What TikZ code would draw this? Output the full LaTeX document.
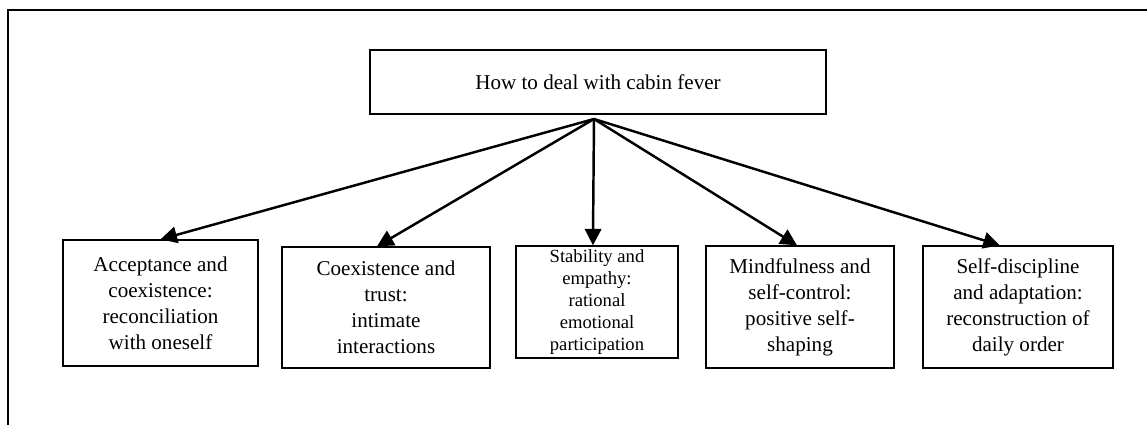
\documentclass[tikz,border=0pt]{standalone}
\usepackage{fontspec}
\setmainfont{Liberation Serif}
\usetikzlibrary{arrows.meta,positioning,calc}

\begin{document}
\begin{tikzpicture}[
    >={Triangle[length=3.3mm,width=3.3mm]},
    link/.style={->,line width=1.4pt,draw=black},
    frame/.style={line width=1.6pt,draw=black},
    topic/.style={draw=black,line width=1.4pt,minimum width=9.12cm,
      minimum height=1.28cm,align=center,font=\fontsize{12}{14.8}\selectfont},
    branch/.style={draw=black,line width=0.75pt,inner sep=0pt,align=center,
      font=\fontsize{12}{14.8}\selectfont},
    smallbranch/.style={branch,font=\fontsize{10.6}{12.6}\selectfont}
  ]
    \useasboundingbox (0,0) rectangle (22.94,8.5);
    \draw[frame] (0.16,-0.2) -- (0.16,8.3) -- (23.2,8.3);

    \node[topic] (topic) at (11.96,6.86) {How to deal with cabin fever};
    \coordinate (hub) at (11.88,6.12);

    \node[branch,minimum width=3.9cm,minimum height=2.52cm] (accept) at (3.21,2.44)
      {Acceptance and\\coexistence:\\reconciliation\\with oneself};
    \node[branch,minimum width=4.16cm,minimum height=2.42cm] (trust) at (7.72,2.35)
      {Coexistence and\\trust:\\intimate\\interactions};
    \node[smallbranch,minimum width=3.24cm,minimum height=2.24cm] (empathy) at (11.94,2.46)
      {Stability and\\empathy:\\rational\\emotional\\participation};
    \node[branch,minimum width=3.76cm,minimum height=2.44cm] (mind) at (16.0,2.36)
      {Mindfulness and\\self-control:\\positive self-\\shaping};
    \node[branch,minimum width=3.8cm,minimum height=2.44cm] (order) at (20.36,2.36)
      {Self-discipline\\and adaptation:\\reconstruction of\\daily order};

    \draw[link] (hub) -- (accept.north);
    \draw[link] (hub) -- ($(trust.north west)!0.457!(trust.north east)$);
    \draw[link] (hub) -- ($(empathy.north west)!0.475!(empathy.north east)$);
    \draw[link] (hub) -- ($(mind.north west)!0.484!(mind.north east)$);
    \draw[link] (hub) -- ($(order.north west)!0.405!(order.north east)$);
  \end{tikzpicture}
\end{document}
